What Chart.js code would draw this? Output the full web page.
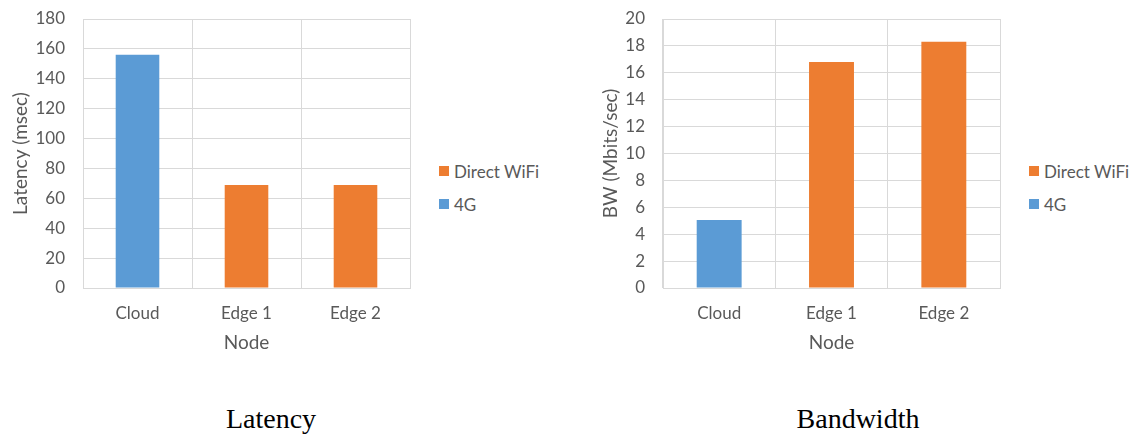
<!DOCTYPE html>
<html>
<head>
<meta charset="utf-8">
<script src="https://cdn.jsdelivr.net/npm/chart.js@4.4.0/dist/chart.umd.min.js"></script>
<style>
  body { margin: 0; background: #fff; width: 1137px; height: 436px; position: relative; overflow: hidden; font-family: Lato, sans-serif; }
  .box { position: absolute; top: 0; height: 354px; }
  .legend { position: absolute; font-size: 17px; color: #595959; }
  .legend .item { position: absolute; left: 0; display: flex; align-items: center; height: 20px; white-space: nowrap; }
  .legend .sw { width: 10px; height: 10px; margin-right: 5px; }
  .caption { position: absolute; top: 405px; width: 300px; text-align: center; font-family: "Liberation Serif", serif; font-size: 28px; line-height: 28px; color: #000; }
</style>
</head>
<body>
<div class="box" style="left:0; width:420px;"><canvas id="latency"></canvas></div>
<div class="box" style="left:590px; width:420px;"><canvas id="bandwidth"></canvas></div>
<div class="legend" id="legLatency" style="left:439px; top:161px;"></div>
<div class="legend" id="legBandwidth" style="left:1029px; top:161px;"></div>
<div class="caption" style="left:121px;">Latency</div>
<div class="caption" style="left:708px;">Bandwidth</div>

<script>
const nodes = ["Cloud", "Edge 1", "Edge 2"];
const seriesNames = ["Direct WiFi", "4G"];
const seriesColors = ["#ED7D31", "#5B9BD5"];

// latency in msec
const latencyWifi = [null, 69, 69];
const latency4G = [156, null, null];

// bandwidth in Mbits/sec
const bwWifi = [null, 16.8, 18.3];
const bw4G = [5.05, null, null];

const textColor = "#595959";
const gridColor = "#D9D9D9";
const tickFont = { family: "Lato", size: 17 };
const titleFont = { family: "Lato", size: 19 };

function drawChart(id, wifi, g4, yMax, yStep, yTitle, yWidth) {
  return new Chart(id, {
    type: "bar",
    data: {
      labels: nodes,
      datasets: [
        { label: seriesNames[0], data: wifi, backgroundColor: seriesColors[0] },
        { label: seriesNames[1], data: g4, backgroundColor: seriesColors[1] },
      ],
    },
    options: {
      responsive: true,
      maintainAspectRatio: false,
      animation: false,
      devicePixelRatio: 1,
      layout: { padding: { top: 19, right: 10, left: 0, bottom: 0 } },
      datasets: { bar: { categoryPercentage: 1, barPercentage: 0.4 } },
      plugins: { legend: { display: false }, tooltip: { enabled: false } },
      scales: {
        x: {
          stacked: true,
          grid: { color: gridColor, drawTicks: false },
          border: { color: gridColor },
          ticks: { color: textColor, font: tickFont, padding: 15 },
          title: { display: true, text: "Node", color: textColor, font: titleFont, padding: { top: 0, bottom: 0 } },
          afterFit: (scale) => { scale.height = 66; },
        },
        y: {
          stacked: true,
          min: 0,
          max: yMax,
          grid: { color: gridColor, drawTicks: false },
          border: { color: gridColor },
          ticks: { color: textColor, font: tickFont, padding: 18, stepSize: yStep },
          title: { display: true, text: yTitle, color: textColor, font: titleFont, padding: { top: 9, bottom: 0 } },
          afterFit: (scale) => {
            scale.width = yWidth;
            // the layout padding already leaves room for the end labels
            scale.paddingTop = 0;
            scale.paddingBottom = 0;
          },
        },
      },
    },
  });
}

// legend boxes built from the same series names/colours
function buildLegend(elId) {
  const el = document.getElementById(elId);
  seriesNames.forEach((name, i) => {
    const item = document.createElement("div");
    item.className = "item";
    item.style.top = i * 33 + "px";
    item.innerHTML = `<span class="sw" style="background:${seriesColors[i]}"></span>${name}`;
    el.appendChild(item);
  });
}

drawChart("latency", latencyWifi, latency4G, 180, 20, "Latency (msec)", 83);
drawChart("bandwidth", bwWifi, bw4G, 20, 2, "BW (Mbits/sec)", 73);
buildLegend("legLatency");
buildLegend("legBandwidth");
</script>
</body>
</html>
